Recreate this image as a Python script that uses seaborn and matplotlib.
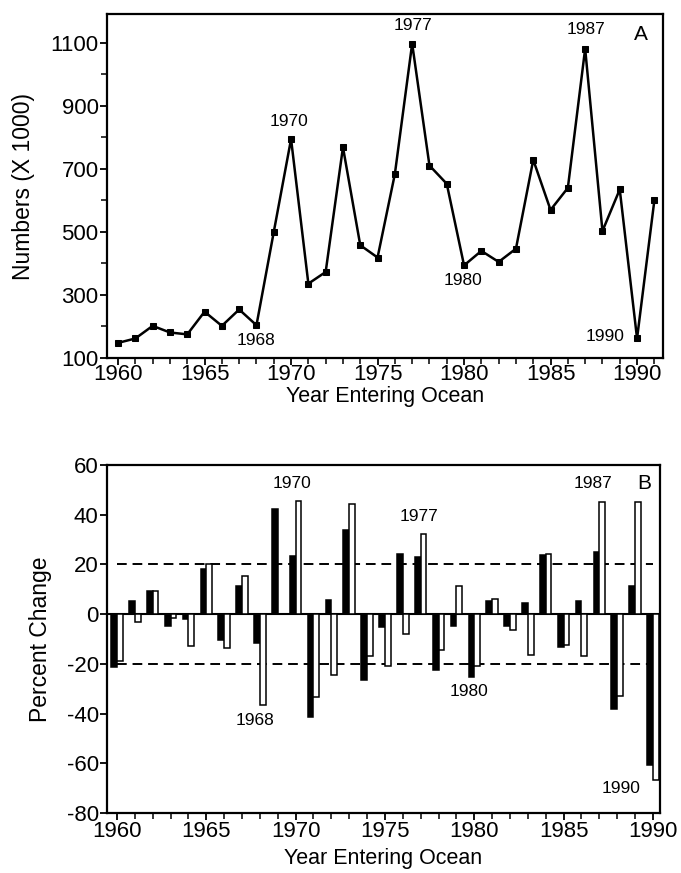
import numpy as np
import pandas as pd
import matplotlib
matplotlib.use("Agg")
import matplotlib.pyplot as plt
from matplotlib.ticker import MultipleLocator
import seaborn as sns

sns.set_theme(style="ticks")
plt.rcParams['font.family'] = ['Liberation Sans', 'DejaVu Sans']
plt.rcParams['axes.unicode_minus'] = False
for k in ('text.color', 'axes.labelcolor', 'xtick.color', 'ytick.color', 'axes.edgecolor'):
    plt.rcParams[k] = 'black'

# ---- Panel A data ----
years_a = list(range(1960, 1992))
numbers = [148, 162, 202, 181, 175, 247, 202, 254, 204, 500,
           795, 336, 373, 769, 458, 419, 684, 1098, 711, 653,
           394, 440, 405, 447, 729, 570, 640, 1082, 503, 635,
           162, 600]

# ---- Panel B data ----
years_b = list(range(1960, 1991))
black_pct = [-21.3, 5.3, 9.3, -4.9, -2.0, 18.0, -10.4, 11.3, -11.7, 42.4,
             23.3, -41.3, 5.6, 34.0, -26.3, -5.3, 24.0, 22.9, -22.4, -4.7,
             -25.3, 5.1, -4.7, 4.4, 23.6, -13.1, 5.3, 25.0, -38.0, 11.3,
             -60.7]
white_pct = [-18.7, -3.3, 9.3, -1.6, -13.0, 20.0, -13.7, 15.3, -36.4, np.nan,
             45.7, -33.3, -24.3, 44.3, -17.0, -20.7, -8.0, 32.4, -14.3, 11.3,
             -20.7, 6.0, -6.4, -16.3, 24.3, -12.3, -16.9, 45.3, -33.0, 45.3,
             -66.9]

labels_a = [("1970", 1969.9, 851), ("1977", 1977.05, 1154), ("1987", 1987.05, 1143),
            ("1968", 1968.0, 157), ("1980", 1979.95, 347), ("1990", 1988.15, 167)]
labels_b = [("1970", 1969.8, 52.7), ("1977", 1976.9, 39.1), ("1987", 1986.65, 52.7),
            ("1968", 1967.7, -42.6), ("1980", 1979.7, -31.2), ("1990", 1988.2, -70.0)]

W, H = 681, 873
fig = plt.figure(figsize=(W / 100, H / 100), dpi=100)
fig.patch.set_facecolor("white")

axA = fig.add_axes([107 / W, 1 - 358 / H, (663 - 107) / W, (358 - 14) / H])
axB = fig.add_axes([107 / W, 1 - 813 / H, (660 - 107) / W, (813 - 465) / H])

tick_fs = 16
xlab_fs = 15.5
ylab_fs = 16.5
ann_fs = 12.5

# ---- Panel A ----
dfA = pd.DataFrame({"year": years_a, "numbers": numbers})
sns.lineplot(data=dfA, x="year", y="numbers", ax=axA, color="black",
             linewidth=1.8, marker="s", markersize=4.5, markeredgecolor="black")
axA.set_xlim(1959.36, 1991.5)
axA.set_ylim(100, 1192)
axA.set_yticks([100, 300, 500, 700, 900, 1100])
axA.yaxis.set_minor_locator(MultipleLocator(100))
axA.xaxis.set_major_locator(MultipleLocator(5))
axA.xaxis.set_minor_locator(MultipleLocator(1))
axA.set_xlabel("Year Entering Ocean", fontsize=xlab_fs, labelpad=1)
axA.set_ylabel("Numbers (X 1000)", fontsize=ylab_fs)
axA.yaxis.set_label_coords(-0.13, 0.5)
for t, x, y in labels_a:
    axA.text(x, y, t, ha="center", va="center", fontsize=ann_fs)
axA.text(1990.2, 1127, "A", ha="center", va="center", fontsize=15)

# ---- Panel B ----
dfB = pd.DataFrame({
    "year": years_b * 2,
    "pct": black_pct + white_pct,
    "series": ["black"] * len(years_b) + ["white"] * len(years_b),
})
sns.barplot(data=dfB, x="year", y="pct", hue="series", ax=axB,
            native_scale=True, width=0.64, dodge=True,
            palette={"black": "black", "white": "white"},
            edgecolor="black", linewidth=1.1, legend=False, errorbar=None)
axB.axhline(0, color="black", linewidth=1.5, zorder=0.5)
axB.hlines([20, -20], 1960, 1990, colors="black", linewidth=1.4,
           linestyles=(0, (5, 3)), zorder=0.6)
axB.set_xlim(1959.44, 1990.4)
axB.set_ylim(-80, 60)
axB.yaxis.set_major_locator(MultipleLocator(20))
axB.xaxis.set_major_locator(MultipleLocator(5))
axB.xaxis.set_minor_locator(MultipleLocator(1))
axB.set_xlabel("Year Entering Ocean", fontsize=xlab_fs, labelpad=4)
axB.set_ylabel("Percent Change", fontsize=ylab_fs)
axB.yaxis.set_label_coords(-0.099, 0.5)
for t, x, y in labels_b:
    axB.text(x, y, t, ha="center", va="center", fontsize=ann_fs)
axB.text(1989.5, 52.7, "B", ha="center", va="center", fontsize=15)

for ax in (axA, axB):
    ax.set_facecolor("white")
    for s in ax.spines.values():
        s.set_visible(True)
        s.set_color("black")
        s.set_linewidth(1.6)
    ax.tick_params(axis="both", which="major", direction="out", length=5,
                   width=1.3, color="black", labelsize=tick_fs, pad=1)
    ax.tick_params(axis="both", which="minor", direction="out", length=4,
                   width=1.1, color="black")
    ax.grid(False)
axA.tick_params(axis="x", which="major", pad=-1)

fig.savefig("out.png", dpi=100, facecolor="white")
